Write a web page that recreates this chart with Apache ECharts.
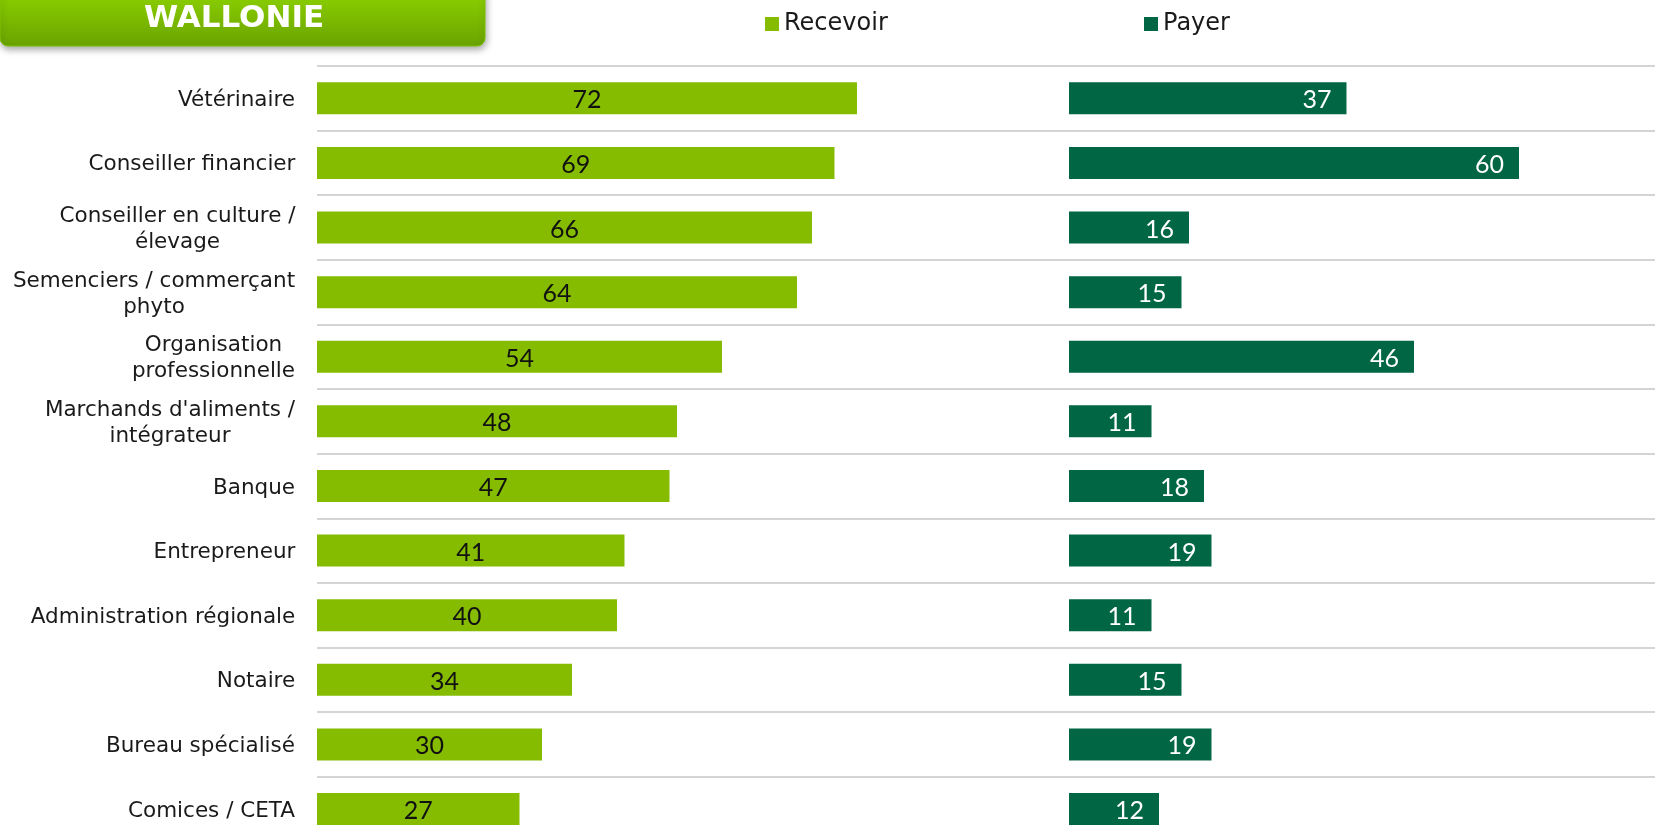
<!DOCTYPE html>
<html>
<head>
<meta charset="utf-8">
<script src="https://cdn.jsdelivr.net/npm/echarts@6/dist/echarts.min.js"></script>
<style>
html,body{margin:0;padding:0;background:#fff;}
#chart{width:1655px;height:838px;}
</style>
</head>
<body>
<div id="chart"></div>
<script>
const title = 'WALLONIE';
const categories = [
  'Vétérinaire',
  'Conseiller financier',
  'Conseiller en culture /\nélevage',
  'Semenciers / commerçant\nphyto',
  'Organisation\nprofessionnelle',
  "Marchands d'aliments /\nintégrateur",
  'Banque',
  'Entrepreneur',
  'Administration régionale',
  'Notaire',
  'Bureau spécialisé',
  'Comices / CETA'
];
const seriesNames = ['Recevoir', 'Payer'];
const recevoir = [72, 69, 66, 64, 54, 48, 47, 41, 40, 34, 30, 27];
const payer = [37, 60, 16, 15, 46, 11, 18, 19, 11, 15, 19, 12];

const LIGHT = '#85bc00';
const DARK = '#006644';
const CAT_FONT = '"DejaVu Sans", Verdana, sans-serif';
const CAT_SIZE = 21.5;
const VAL_FONT = 'Lato, "Open Sans", sans-serif';

// rich styles so multi-line labels are centred within their own block
const canvas = document.createElement('canvas');
const ctx = canvas.getContext('2d');
ctx.font = CAT_SIZE + 'px ' + CAT_FONT;
const rich = {};
categories.forEach((c, i) => {
  const lines = c.split('\n');
  const w = Math.max(...lines.map(l => ctx.measureText(l).width));
  rich['r' + i] = {
    width: Math.ceil(w) + 1, align: 'center',
    fontSize: CAT_SIZE, fontFamily: CAT_FONT, color: '#1a1a1a', lineHeight: 26
  };
});

const chart = echarts.init(document.getElementById('chart'), null, {renderer: 'canvas'});
const splitLine = {show: true, lineStyle: {color: '#c6c6c6', width: 1.5}};
const option = {
  animation: false,
  backgroundColor: '#ffffff',
  grid: [
    {left: 317, top: 66, width: 752, height: 775.3, outerBoundsMode: 'none', containLabel: false},
    {left: 1069, top: 66, width: 752, height: 775.3, outerBoundsMode: 'none', containLabel: false}
  ],
  xAxis: [
    {gridIndex: 0, type: 'value', min: 0, max: 100.27, show: false},
    {gridIndex: 1, type: 'value', min: 0, max: 100.27, show: false}
  ],
  yAxis: [
    {
      gridIndex: 0, type: 'category', data: categories, inverse: true,
      axisLine: {show: false}, axisTick: {show: false}, splitLine: splitLine,
      axisLabel: {
        margin: 21, align: 'right', padding: [4, 0, 0, 0],
        formatter: (v, idx) => v.split('\n').map(l => '{r' + idx + '|' + l + '}').join('\n'),
        rich: rich
      }
    },
    {
      gridIndex: 1, type: 'category', data: categories, inverse: true,
      axisLine: {show: false}, axisTick: {show: false}, splitLine: splitLine,
      axisLabel: {show: false}
    }
  ],
  legend: [
    {
      data: [seriesNames[0]], left: 765, top: 10, itemWidth: 14, itemHeight: 14, icon: 'rect',
      itemGap: 0, padding: 0,
      textStyle: {fontFamily: CAT_FONT, fontSize: 24, color: '#1a1a1a', lineHeight: 28}
    },
    {
      data: [seriesNames[1]], left: 1144, top: 10, itemWidth: 14, itemHeight: 14, icon: 'rect',
      itemGap: 0, padding: 0,
      textStyle: {fontFamily: CAT_FONT, fontSize: 24, color: '#1a1a1a', lineHeight: 28}
    }
  ],
  series: [
    {
      name: seriesNames[0], type: 'bar', xAxisIndex: 0, yAxisIndex: 0,
      data: recevoir, barWidth: 32, itemStyle: {color: LIGHT},
      label: {show: true, position: 'inside', offset: [0, 2], color: '#111', fontFamily: VAL_FONT, fontSize: 25}
    },
    {
      name: seriesNames[1], type: 'bar', xAxisIndex: 1, yAxisIndex: 1,
      data: payer, barWidth: 32, itemStyle: {color: DARK},
      label: {show: true, position: 'insideRight', distance: 15, offset: [0, 2], color: '#fff', fontFamily: VAL_FONT, fontSize: 25}
    }
  ],
  graphic: [
    {
      type: 'rect', z: 100, shape: {x: 0, y: -12, width: 485, height: 58, r: 8},
      style: {
        fill: new echarts.graphic.LinearGradient(0, 0, 0, 1, [
          {offset: 0, color: '#8fd400'},
          {offset: 1, color: '#6aa300'}
        ]),
        stroke: '#7cc200', lineWidth: 1,
        shadowBlur: 7, shadowColor: 'rgba(0,0,0,0.35)', shadowOffsetY: 3, shadowOffsetX: 1
      }
    },
    {
      type: 'text', z: 101, x: 234, y: 18.5,
      style: {
        text: title, fill: '#fff', font: 'bold 31px "DejaVu Sans", Verdana, sans-serif',
        textAlign: 'center', textVerticalAlign: 'middle'
      }
    }
  ]
};
chart.setOption(option);
</script>
</body>
</html>
